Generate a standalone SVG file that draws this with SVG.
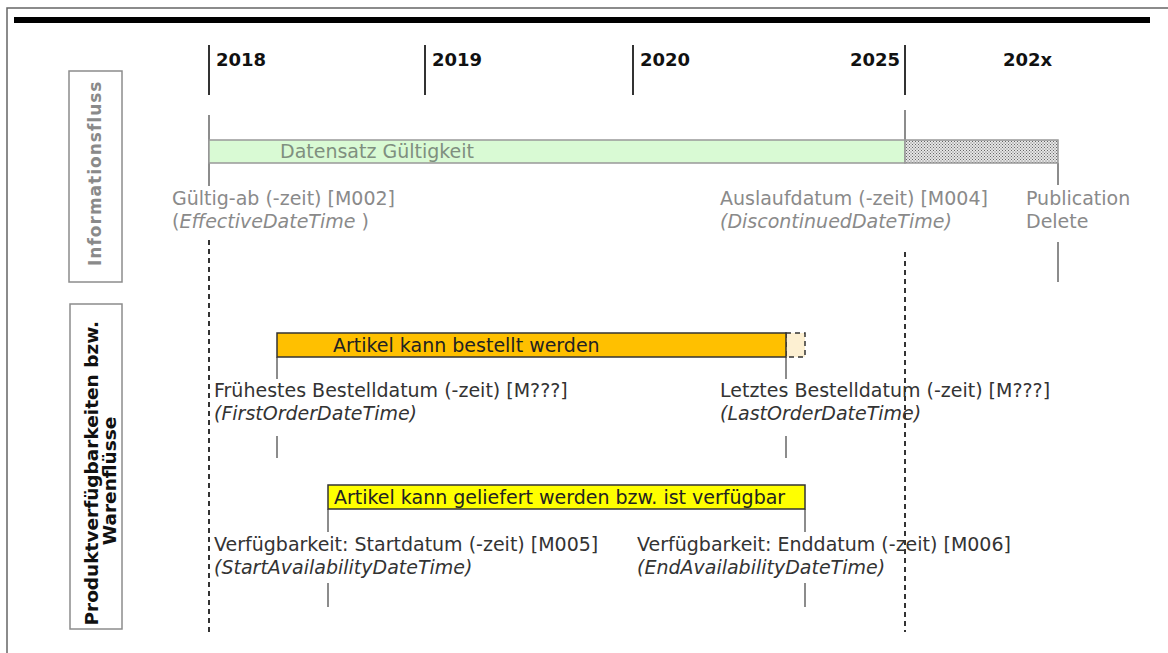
<svg xmlns="http://www.w3.org/2000/svg" width="1168" height="653" viewBox="0 0 1168 653">
  <style>
    .txt { font-family: "DejaVu Sans", Verdana, sans-serif; font-size: 19px; }
    .gray { fill: #8a8a8a; }
    .dark { fill: #333333; }
    .it { font-style: italic; }
    .year { font-family: "DejaVu Sans", Verdana, sans-serif; font-size: 18px; font-weight: bold; fill: #111; }
    .tick { stroke: #333; stroke-width: 2; }
    .solid { stroke: #666; stroke-width: 1.5; fill: none; }
    .dash { stroke: #333; stroke-width: 2; stroke-dasharray: 5 4; fill: none; }
    .lane { fill: #fff; stroke: #8c8c8c; stroke-width: 1.5; }
  </style>
  <defs>
    <pattern id="dots" width="3" height="3" patternUnits="userSpaceOnUse">
      <rect width="3" height="3" fill="#e6e6e6"/>
      <rect x="0" y="0" width="1" height="1" fill="#666"/>
      <rect x="1.5" y="1.5" width="1" height="1" fill="#666"/>
    </pattern>
  </defs>

  <rect width="1168" height="653" fill="#fff"/>
  <!-- page frame and header rule -->
  <path d="M7,653 V8 H1168" fill="none" stroke="#666" stroke-width="1.5"/>
  <rect x="14" y="17" width="1136" height="6" fill="#000"/>

  <!-- timeline years -->
  <g id="years">
    <line class="tick" x1="209" y1="45" x2="209" y2="95"/>
    <line class="tick" x1="425" y1="45" x2="425" y2="95"/>
    <line class="tick" x1="633" y1="45" x2="633" y2="95"/>
    <line class="tick" x1="905" y1="45" x2="905" y2="95"/>
    <text class="year" x="216" y="66">2018</text>
    <text class="year" x="432" y="66">2019</text>
    <text class="year" x="640" y="66">2020</text>
    <text class="year" x="900" y="66" text-anchor="end">2025</text>
    <text class="year" x="1003" y="66">202x</text>
  </g>

  <!-- lane headings -->
  <g id="lane-info">
    <rect class="lane" x="69" y="71" width="53" height="211"/>
    <text class="txt" transform="translate(101,266) rotate(-90)" style="font-size:17px;font-weight:bold;letter-spacing:1px;fill:#8a8a8a">Informationsfluss</text>
  </g>
  <g id="lane-product">
    <rect class="lane" x="70" y="304" width="52" height="325"/>
    <text class="txt" transform="rotate(-90)" text-anchor="middle" style="font-size:18.5px;font-weight:bold;fill:#111">
      <tspan x="-470" y="98">Produktverfügbarkeiten bzw.</tspan>
      <tspan x="-481" y="116">Warenflüsse</tspan>
    </text>
  </g>

  <!-- time markers -->
  <g id="connectors">
    <line class="solid" x1="209" y1="115" x2="209" y2="186"/>
    <line class="dash" x1="209" y1="240" x2="209" y2="632"/>
    <line class="solid" x1="905" y1="110" x2="905" y2="140"/>
    <line class="dash" x1="905" y1="252" x2="905" y2="632"/>
    <line class="solid" x1="1058" y1="163" x2="1058" y2="185"/>
    <line class="solid" x1="1058" y1="242" x2="1058" y2="282"/>
    <line class="solid" x1="277" y1="357" x2="277" y2="379"/>
    <line class="solid" x1="277" y1="436" x2="277" y2="458"/>
    <line class="solid" x1="786" y1="357" x2="786" y2="379"/>
    <line class="solid" x1="786" y1="436" x2="786" y2="458"/>
    <line class="solid" x1="328" y1="509" x2="328" y2="532"/>
    <line class="solid" x1="328" y1="583" x2="328" y2="607"/>
    <line class="solid" x1="805" y1="509" x2="805" y2="532"/>
    <line class="solid" x1="805" y1="583" x2="805" y2="607"/>
  </g>

  <!-- record validity -->
  <g id="validity">
    <rect x="209" y="140" width="696" height="23" fill="#d9fad4" stroke="#999" stroke-width="1.5"/>
    <rect x="905" y="140" width="153" height="23" fill="url(#dots)" stroke="#999" stroke-width="1.5"/>
    <text class="txt" x="280" y="158" style="fill:#7f8f7f">Datensatz Gültigkeit</text>
  </g>

  <g id="effective">
    <text class="txt gray" x="172" y="205">Gültig-ab (-zeit) [M002]</text>
    <text class="txt gray" x="172" y="228">(<tspan class="it">EffectiveDateTime</tspan> )</text>
  </g>
  <g id="discontinued">
    <text class="txt gray" x="720" y="205">Auslaufdatum (-zeit) [M004]</text>
    <text class="txt gray it" x="720" y="228">(DiscontinuedDateTime)</text>
  </g>
  <g id="delete">
    <text class="txt gray" x="1026" y="205">Publication</text>
    <text class="txt gray" x="1026" y="228">Delete</text>
  </g>

  <!-- ordering window -->
  <g id="order">
    <rect x="786" y="333" width="19" height="24" fill="#fdf0d2" stroke="#333" stroke-width="1.5" stroke-dasharray="5 4"/>
    <rect x="277" y="333" width="509" height="24" fill="#ffc000" stroke="#333" stroke-width="1.5"/>
    <text class="txt" x="333" y="352" style="fill:#222">Artikel kann bestellt werden</text>
  </g>
  <g id="first-order">
    <text class="txt dark" x="214" y="397">Frühestes Bestelldatum (-zeit) [M???]</text>
    <text class="txt dark it" x="214" y="420">(FirstOrderDateTime)</text>
  </g>
  <g id="last-order">
    <text class="txt dark" x="720" y="397">Letztes Bestelldatum (-zeit) [M???]</text>
    <text class="txt dark it" x="720" y="420">(LastOrderDateTime)</text>
  </g>

  <!-- availability window -->
  <g id="availability">
    <rect x="328" y="485" width="477" height="24" fill="#ffff00" stroke="#333" stroke-width="1.5"/>
    <text class="txt" x="334" y="504" style="fill:#222">Artikel kann geliefert werden bzw. ist verfügbar</text>
  </g>
  <g id="start-availability">
    <text class="txt dark" x="214" y="551">Verfügbarkeit: Startdatum (-zeit) [M005]</text>
    <text class="txt dark it" x="214" y="574">(StartAvailabilityDateTime)</text>
  </g>
  <g id="end-availability">
    <text class="txt dark" x="637" y="551">Verfügbarkeit: Enddatum (-zeit) [M006]</text>
    <text class="txt dark it" x="637" y="574">(EndAvailabilityDateTime)</text>
  </g>
</svg>
